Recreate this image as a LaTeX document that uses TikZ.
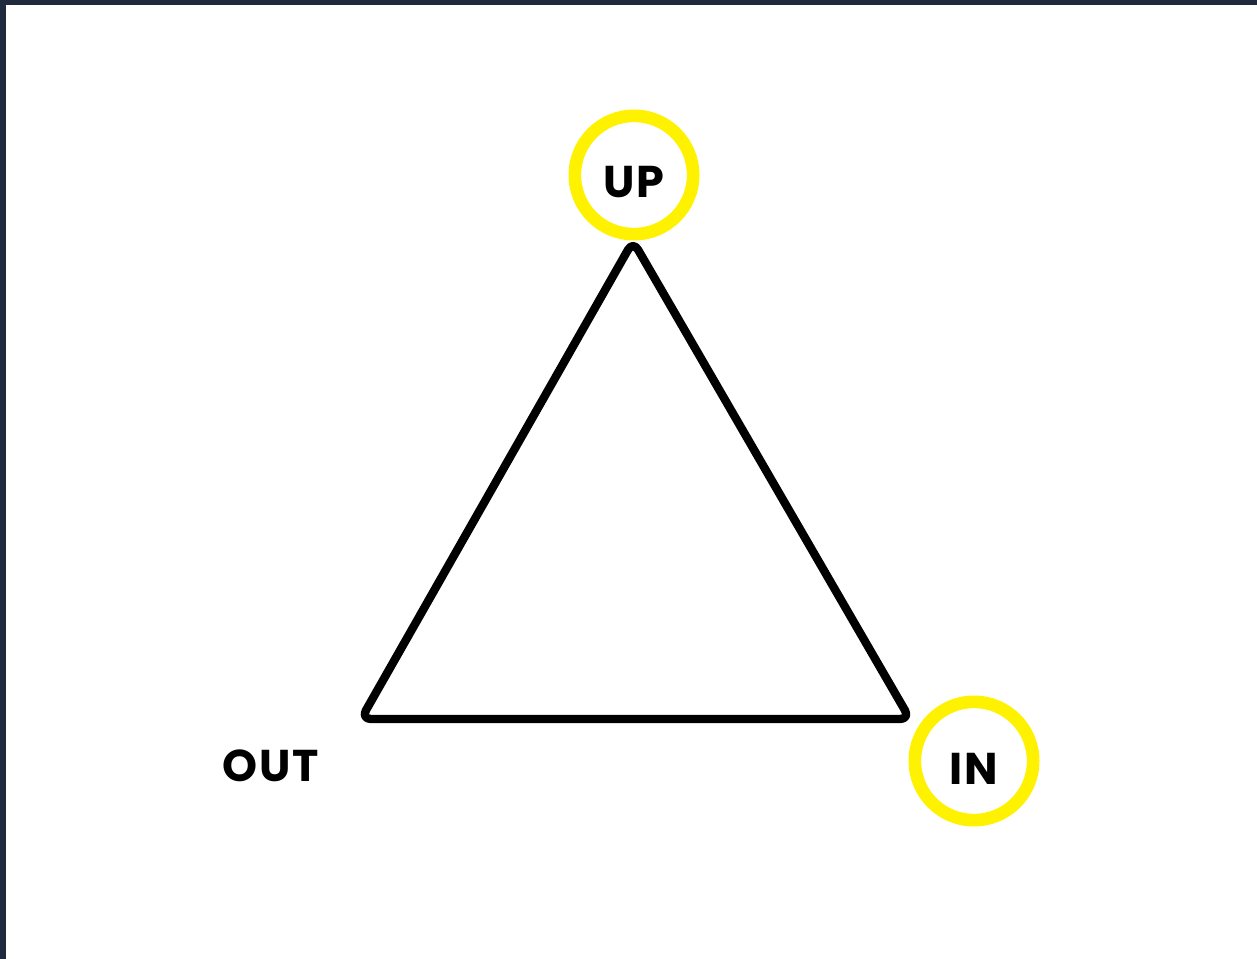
\documentclass[tikz,border=0pt]{standalone}
\usepackage{fontspec}
\setmainfont{Poppins}[LetterSpace=4]
\definecolor{frame}{HTML}{1F2A3F}
\begin{document}
\begin{tikzpicture}[
  x = 0.03cm, y = -0.03cm,
  every node/.style = {inner sep=0pt, font=\fontsize{38}{40}\selectfont\bfseries},
  ring/.style       = {draw=yellow, line width=0.38cm, circle, minimum size=3.55cm,
                       text height=1.38cm},
  side/.style       = {draw, line width=0.25cm, line join=round, rounded corners=0.3cm},
]

% frame
\fill[frame] (0,0) rectangle (1257,959);
\fill[white] (6,5) rectangle (1257,959);

% corners
\coordinate (top)   at (633,241);
\coordinate (left)  at (361,719);
\coordinate (right) at (910,719);
\draw[side] (top) -- (left) -- (right) -- cycle;

% labels
\node[ring] (up)  at (634,175) {UP};
\node[ring] (in)  at (974,761) {IN};
\node       (out) at (271,766) {OUT};

\end{tikzpicture}
\end{document}
